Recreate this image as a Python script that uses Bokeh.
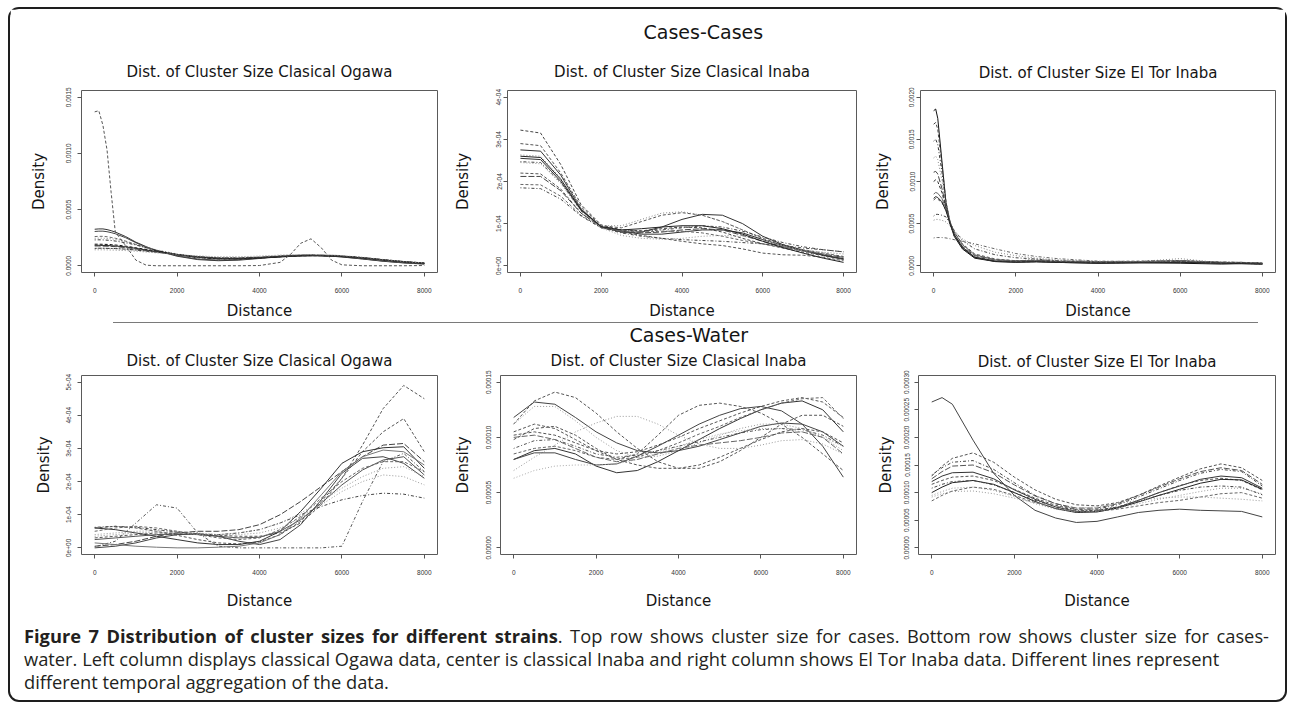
from bokeh.plotting import figure
from bokeh.layouts import row, column
from bokeh.models import Range1d, FixedTicker, Title, Div
from bokeh.embed import file_html
from bokeh.resources import INLINE

# ---------------------------------------------------------------------------
# DATA  (density values are given in units of 1e-4; the axis labels show
# the real values)
# ---------------------------------------------------------------------------
DIST_TICKS = [0, 2000, 4000, 6000, 8000]

# ---- Cases-Cases : Classical Ogawa
CC_OGAWA_X = [0, 100, 200, 300, 400, 500, 750, 1000, 1250, 1500, 2000, 2500, 3000,
              3500, 4000, 4500, 4750, 5000, 5250, 5500, 5750, 6000, 6500, 7000, 7500, 8000]
CC_OGAWA = [
    [3.25, 3.28, 3.28, 3.22, 3.12, 3.00, 2.60, 2.10, 1.70, 1.35, 0.85, 0.55, 0.45, 0.50, 0.65, 0.80, 0.88, 0.92, 0.93, 0.90, 0.85, 0.78, 0.60, 0.40, 0.25, 0.15],
    [3.05, 3.08, 3.08, 3.03, 2.95, 2.85, 2.50, 2.05, 1.65, 1.35, 0.90, 0.60, 0.50, 0.55, 0.68, 0.82, 0.88, 0.92, 0.93, 0.90, 0.85, 0.80, 0.62, 0.42, 0.27, 0.17],
    [2.60, 2.62, 2.62, 2.58, 2.52, 2.45, 2.20, 1.90, 1.60, 1.35, 0.95, 0.70, 0.58, 0.60, 0.70, 0.85, 0.90, 0.95, 0.96, 0.94, 0.90, 0.84, 0.66, 0.46, 0.30, 0.20],
    [2.45, 2.46, 2.46, 2.43, 2.40, 2.35, 2.15, 1.90, 1.65, 1.42, 1.05, 0.80, 0.70, 0.72, 0.80, 0.90, 0.95, 0.98, 1.00, 0.99, 0.96, 0.90, 0.72, 0.50, 0.33, 0.22],
    [2.30, 2.31, 2.30, 2.28, 2.25, 2.20, 2.05, 1.85, 1.60, 1.38, 1.00, 0.75, 0.62, 0.62, 0.70, 0.82, 0.88, 0.92, 0.94, 0.93, 0.90, 0.85, 0.70, 0.50, 0.33, 0.22],
    [1.92, 1.92, 1.91, 1.90, 1.88, 1.85, 1.75, 1.60, 1.45, 1.30, 1.00, 0.75, 0.62, 0.62, 0.70, 0.80, 0.85, 0.88, 0.90, 0.90, 0.88, 0.85, 0.72, 0.52, 0.35, 0.22],
    [1.82, 1.82, 1.81, 1.80, 1.78, 1.76, 1.68, 1.55, 1.40, 1.27, 1.00, 0.78, 0.65, 0.64, 0.70, 0.78, 0.83, 0.86, 0.88, 0.88, 0.86, 0.82, 0.70, 0.52, 0.35, 0.22],
    [1.76, 1.76, 1.75, 1.74, 1.72, 1.70, 1.62, 1.50, 1.36, 1.24, 0.98, 0.78, 0.68, 0.68, 0.76, 0.86, 0.90, 0.92, 0.93, 0.92, 0.90, 0.86, 0.73, 0.55, 0.38, 0.25],
    [1.55, 1.56, 1.56, 1.55, 1.54, 1.53, 1.48, 1.40, 1.30, 1.20, 1.00, 0.82, 0.70, 0.68, 0.74, 0.84, 0.88, 0.90, 0.91, 0.90, 0.88, 0.84, 0.72, 0.54, 0.37, 0.24],
    [1.42, 1.42, 1.42, 1.41, 1.40, 1.39, 1.35, 1.30, 1.22, 1.15, 1.00, 0.88, 0.80, 0.80, 0.86, 0.95, 0.98, 1.00, 1.00, 0.98, 0.95, 0.90, 0.76, 0.56, 0.38, 0.25],
    [13.7, 13.8, 12.5, 10.3, 6.50, 3.00, 1.80, 0.50, 0.05, 0.00, 0.00, 0.00, 0.00, 0.00, 0.02, 0.30, 1.00, 2.00, 2.40, 1.60, 0.50, 0.08, 0.00, 0.00, 0.00, 0.02],
]
CC_OGAWA_YTICKS = [0, 5, 10, 15]
CC_OGAWA_YLABELS = ["0.0000", "0.0005", "0.0010", "0.0015"]

# ---- Cases-Cases : Classical Inaba
CC_INABA_X = [0, 500, 1000, 1500, 2000, 2500, 3000, 3500, 4000, 4500, 5000, 5500, 6000, 6500, 7000, 7500, 8000]
CC_INABA = [
    [3.22, 3.15, 2.40, 1.45, 0.97, 0.85, 0.83, 0.88, 0.92, 0.90, 0.80, 0.65, 0.52, 0.42, 0.32, 0.24, 0.16],
    [2.90, 2.85, 2.20, 1.40, 0.95, 0.90, 1.05, 1.20, 1.26, 1.20, 1.05, 0.85, 0.65, 0.50, 0.38, 0.30, 0.22],
    [2.75, 2.72, 2.15, 1.35, 0.92, 0.80, 0.80, 0.92, 1.10, 1.22, 1.20, 1.00, 0.70, 0.50, 0.36, 0.25, 0.17],
    [2.63, 2.60, 2.08, 1.35, 0.95, 0.95, 1.10, 1.25, 1.28, 1.20, 1.05, 0.85, 0.62, 0.48, 0.38, 0.32, 0.28],
    [2.55, 2.52, 2.00, 1.32, 0.92, 0.82, 0.75, 0.75, 0.80, 0.85, 0.85, 0.78, 0.62, 0.48, 0.36, 0.25, 0.15],
    [2.47, 2.45, 1.98, 1.30, 0.93, 0.85, 0.82, 0.85, 0.90, 0.95, 0.92, 0.82, 0.68, 0.55, 0.45, 0.38, 0.33],
    [2.20, 2.18, 1.82, 1.25, 0.92, 0.80, 0.72, 0.65, 0.58, 0.52, 0.48, 0.40, 0.30, 0.26, 0.25, 0.20, 0.12],
    [2.12, 2.12, 1.78, 1.25, 0.92, 0.80, 0.78, 0.80, 0.85, 0.88, 0.85, 0.72, 0.58, 0.45, 0.35, 0.27, 0.20],
    [1.93, 1.92, 1.65, 1.20, 0.90, 0.82, 0.80, 0.82, 0.82, 0.78, 0.70, 0.60, 0.52, 0.44, 0.36, 0.28, 0.20],
    [1.85, 1.83, 1.58, 1.18, 0.90, 0.78, 0.70, 0.65, 0.62, 0.60, 0.58, 0.55, 0.52, 0.48, 0.42, 0.38, 0.33],
    [2.45, 2.42, 1.95, 1.30, 0.90, 0.72, 0.65, 0.63, 0.65, 0.70, 0.72, 0.70, 0.62, 0.48, 0.35, 0.22, 0.12],
    [2.60, 2.57, 2.05, 1.33, 0.93, 0.85, 0.88, 0.92, 0.95, 0.95, 0.88, 0.75, 0.58, 0.43, 0.30, 0.18, 0.08],
]
CC_INABA_YTICKS = [0, 1, 2, 3, 4]
CC_INABA_YLABELS = ["0e+00", "1e-04", "2e-04", "3e-04", "4e-04"]

# ---- Cases-Cases : El Tor Inaba
CC_ELTOR_X = [0, 50, 100, 200, 300, 400, 500, 700, 1000, 1500, 2000, 2500, 3000, 4000, 5000, 6000, 7000, 7500, 8000]
CC_ELTOR = [
    [18.4, 18.6, 17.5, 12.5, 7.5, 5.0, 3.5, 2.0, 0.9, 0.50, 0.45, 0.50, 0.40, 0.30, 0.35, 0.30, 0.20, 0.25, 0.20],
    [16.8, 17.0, 16.2, 12.0, 7.6, 5.2, 3.7, 2.1, 1.0, 0.55, 0.50, 0.55, 0.45, 0.35, 0.40, 0.45, 0.30, 0.30, 0.25],
    [14.8, 15.0, 14.4, 11.2, 7.4, 5.1, 3.6, 2.1, 1.0, 0.60, 0.50, 0.60, 0.50, 0.40, 0.45, 0.50, 0.30, 0.30, 0.20],
    [12.8, 13.0, 12.6, 10.2, 7.2, 5.0, 3.6, 2.2, 1.1, 0.65, 0.55, 0.80, 0.60, 0.40, 0.50, 0.85, 0.35, 0.30, 0.25],
    [11.1, 11.2, 10.9, 9.2, 7.0, 5.0, 3.7, 2.3, 1.2, 0.70, 0.60, 0.65, 0.50, 0.40, 0.45, 0.55, 0.35, 0.35, 0.30],
    [8.5, 8.7, 8.6, 8.0, 6.8, 5.2, 4.0, 2.5, 1.3, 0.70, 0.55, 0.60, 0.50, 0.45, 0.50, 0.60, 0.40, 0.40, 0.30],
    [7.8, 8.0, 7.9, 7.5, 6.6, 5.2, 4.0, 2.6, 1.4, 0.80, 0.60, 0.65, 0.55, 0.50, 0.55, 0.60, 0.40, 0.35, 0.30],
    [5.9, 6.1, 6.1, 6.0, 5.8, 5.0, 4.2, 3.0, 2.0, 1.30, 0.95, 0.80, 0.60, 0.50, 0.50, 0.60, 0.45, 0.40, 0.35],
    [5.4, 5.5, 5.5, 5.4, 5.2, 4.7, 4.1, 3.2, 2.4, 1.60, 1.20, 0.90, 0.70, 0.50, 0.50, 0.55, 0.45, 0.40, 0.30],
    [3.3, 3.35, 3.35, 3.35, 3.3, 3.2, 3.1, 2.9, 2.6, 2.00, 1.45, 1.10, 0.85, 0.55, 0.50, 0.50, 0.40, 0.35, 0.30],
    [8.0, 8.2, 8.1, 7.6, 6.5, 5.0, 3.7, 2.2, 1.0, 0.50, 0.40, 0.45, 0.40, 0.30, 0.35, 0.40, 0.30, 0.25, 0.20],
    [10.0, 10.2, 10.0, 8.7, 6.9, 5.0, 3.6, 2.1, 1.0, 0.55, 0.45, 0.50, 0.45, 0.35, 0.40, 0.45, 0.30, 0.35, 0.25],
]
CC_ELTOR_YTICKS = [0, 5, 10, 15, 20]
CC_ELTOR_YLABELS = ["0.0000", "0.0005", "0.0010", "0.0015", "0.0020"]

# ---- Cases-Water : Classical Ogawa
CW_OGAWA_X = [0, 500, 1000, 1500, 2000, 2500, 3000, 3500, 4000, 4500, 5000, 5500, 6000, 6500, 7000, 7500, 8000]
CW_OGAWA = [
    [0.30, 0.35, 0.40, 0.45, 0.45, 0.42, 0.38, 0.35, 0.35, 0.45, 0.75, 1.30, 2.10, 3.10, 4.20, 4.90, 4.50],
    [0.60, 0.65, 0.60, 0.50, 0.38, 0.25, 0.15, 0.12, 0.18, 0.40, 0.80, 1.40, 2.10, 2.90, 3.50, 3.90, 2.90],
    [0.05, 0.10, 0.20, 0.35, 0.45, 0.50, 0.50, 0.55, 0.70, 1.00, 1.40, 1.85, 2.30, 2.75, 3.10, 3.15, 2.60],
    [0.60, 0.55, 0.45, 0.35, 0.25, 0.15, 0.10, 0.10, 0.20, 0.50, 1.10, 1.80, 2.55, 2.90, 3.02, 3.05, 2.40],
    [0.25, 0.30, 0.35, 0.40, 0.42, 0.40, 0.35, 0.30, 0.32, 0.50, 0.85, 1.35, 1.90, 2.35, 2.65, 2.75, 2.20],
    [0.40, 0.45, 0.50, 0.52, 0.50, 0.45, 0.40, 0.40, 0.45, 0.60, 0.90, 1.30, 1.70, 2.00, 2.20, 2.15, 1.90],
    [0.62, 0.65, 0.62, 0.55, 0.48, 0.42, 0.40, 0.45, 0.55, 0.75, 1.00, 1.25, 1.45, 1.58, 1.65, 1.62, 1.50],
    [0.03, 0.20, 0.75, 1.30, 1.20, 0.45, 0.05, 0.00, 0.00, 0.00, 0.00, 0.00, 0.05, 1.40, 2.60, 2.85, 2.30],
    [0.00, 0.05, 0.15, 0.30, 0.40, 0.42, 0.35, 0.20, 0.10, 0.25, 0.70, 1.45, 2.25, 2.70, 2.75, 2.55, 2.10],
    [0.50, 0.60, 0.65, 0.60, 0.50, 0.40, 0.30, 0.25, 0.30, 0.55, 0.95, 1.50, 2.00, 2.40, 2.60, 2.60, 2.30],
    [0.35, 0.40, 0.45, 0.48, 0.45, 0.40, 0.40, 0.45, 0.55, 0.75, 1.05, 1.40, 1.80, 2.15, 2.40, 2.45, 2.15],
    [0.15, 0.10, 0.05, 0.02, 0.00, 0.00, 0.02, 0.05, 0.15, 0.40, 0.90, 1.60, 2.30, 2.75, 2.95, 2.90, 2.50],
]
CW_OGAWA_YTICKS = [0, 1, 2, 3, 4, 5]
CW_OGAWA_YLABELS = ["0e+00", "1e-04", "2e-04", "3e-04", "4e-04", "5e-04"]

# ---- Cases-Water : Classical Inaba
CW_INABA_X = [0, 500, 1000, 1500, 2000, 2500, 3000, 3500, 4000, 4500, 5000, 5500, 6000, 6500, 7000, 7500, 8000]
CW_INABA = [
    [1.12, 1.33, 1.41, 1.36, 1.22, 1.05, 0.90, 0.78, 0.72, 0.72, 0.78, 0.88, 1.00, 1.12, 1.20, 1.20, 1.10],
    [1.18, 1.32, 1.30, 1.18, 1.05, 0.95, 0.88, 0.86, 0.88, 0.92, 0.98, 1.04, 1.10, 1.13, 1.12, 1.05, 0.92],
    [1.12, 1.28, 1.28, 1.15, 1.00, 0.88, 0.82, 0.83, 0.88, 0.95, 1.02, 1.08, 1.12, 1.12, 1.08, 1.00, 0.88],
    [0.80, 0.88, 0.90, 0.85, 0.74, 0.68, 0.70, 0.78, 0.88, 0.98, 1.08, 1.17, 1.25, 1.31, 1.33, 1.25, 1.05],
    [1.02, 1.05, 1.02, 0.95, 0.88, 0.85, 0.87, 0.93, 1.00, 1.08, 1.15, 1.22, 1.28, 1.33, 1.36, 1.32, 1.18],
    [0.70, 0.82, 0.93, 1.05, 1.13, 1.19, 1.19, 1.12, 1.02, 0.94, 0.90, 0.90, 0.93, 0.97, 0.98, 0.94, 0.85],
    [0.98, 1.08, 1.10, 1.02, 0.90, 0.80, 0.85, 1.02, 1.20, 1.29, 1.31, 1.28, 1.22, 1.12, 1.00, 0.85, 0.70],
    [0.80, 0.86, 0.86, 0.80, 0.75, 0.76, 0.83, 0.92, 1.02, 1.12, 1.20, 1.26, 1.28, 1.24, 1.12, 0.92, 0.64],
    [0.63, 0.70, 0.74, 0.75, 0.75, 0.76, 0.80, 0.86, 0.92, 0.98, 1.03, 1.06, 1.08, 1.08, 1.05, 1.00, 0.92],
    [0.90, 0.97, 0.98, 0.92, 0.85, 0.82, 0.84, 0.88, 0.92, 0.96, 1.00, 1.04, 1.07, 1.08, 1.07, 1.02, 0.92],
    [1.00, 1.02, 0.98, 0.90, 0.82, 0.78, 0.80, 0.85, 0.90, 0.93, 0.95, 0.97, 1.00, 1.04, 1.05, 1.00, 0.85],
    [1.05, 1.12, 1.08, 0.98, 0.88, 0.80, 0.75, 0.72, 0.72, 0.75, 0.82, 0.90, 0.98, 1.05, 1.08, 1.05, 0.95],
    [0.85, 0.90, 0.92, 0.88, 0.82, 0.80, 0.82, 0.88, 0.95, 1.03, 1.10, 1.18, 1.25, 1.31, 1.35, 1.36, 1.17],
]
CW_INABA_YTICKS = [0, 0.5, 1.0, 1.5]
CW_INABA_YLABELS = ["0.00000", "0.00005", "0.00010", "0.00015"]

# ---- Cases-Water : El Tor Inaba
CW_ELTOR_X = [0, 250, 500, 1000, 1500, 2000, 2500, 3000, 3500, 4000, 4500, 5000, 5500, 6000, 6500, 7000, 7500, 8000]
CW_ELTOR = [
    [2.64, 2.72, 2.60, 1.95, 1.35, 0.95, 0.68, 0.54, 0.46, 0.48, 0.56, 0.64, 0.68, 0.70, 0.68, 0.67, 0.66, 0.56],
    [1.30, 1.48, 1.62, 1.72, 1.55, 1.28, 1.05, 0.88, 0.78, 0.76, 0.82, 0.95, 1.12, 1.28, 1.43, 1.52, 1.45, 1.22],
    [1.32, 1.45, 1.55, 1.58, 1.42, 1.18, 0.95, 0.80, 0.70, 0.70, 0.78, 0.92, 1.07, 1.22, 1.35, 1.42, 1.38, 1.12],
    [1.20, 1.30, 1.36, 1.37, 1.25, 1.05, 0.88, 0.74, 0.66, 0.66, 0.73, 0.86, 1.00, 1.12, 1.24, 1.30, 1.27, 1.08],
    [1.15, 1.22, 1.28, 1.30, 1.22, 1.06, 0.90, 0.77, 0.69, 0.68, 0.74, 0.86, 1.00, 1.13, 1.22, 1.26, 1.22, 1.05],
    [1.00, 1.10, 1.18, 1.22, 1.15, 1.00, 0.84, 0.71, 0.64, 0.65, 0.72, 0.83, 0.95, 1.06, 1.17, 1.24, 1.23, 1.06],
    [0.95, 1.02, 1.08, 1.10, 1.04, 0.93, 0.80, 0.70, 0.65, 0.66, 0.72, 0.80, 0.88, 0.95, 1.02, 1.08, 1.08, 0.98],
    [0.85, 0.95, 1.03, 1.10, 1.06, 0.95, 0.82, 0.72, 0.66, 0.66, 0.70, 0.76, 0.82, 0.86, 0.92, 0.98, 1.00, 0.90],
    [1.08, 1.15, 1.20, 1.22, 1.14, 1.00, 0.86, 0.75, 0.68, 0.68, 0.74, 0.84, 0.95, 1.04, 1.10, 1.12, 1.10, 0.96],
    [1.25, 1.38, 1.48, 1.50, 1.36, 1.14, 0.94, 0.80, 0.72, 0.72, 0.80, 0.95, 1.10, 1.25, 1.38, 1.45, 1.40, 1.15],
    [0.92, 0.98, 1.02, 1.03, 0.98, 0.90, 0.82, 0.75, 0.72, 0.74, 0.80, 0.86, 0.90, 0.92, 0.92, 0.90, 0.88, 0.85],
]
CW_ELTOR_YTICKS = [0, 0.5, 1.0, 1.5, 2.0, 2.5, 3.0]
CW_ELTOR_YLABELS = ["0.00000", "0.00005", "0.00010", "0.00015", "0.00020", "0.00025", "0.00030"]

TITLE_OGAWA = "Dist. of Cluster Size Clasical Ogawa"
TITLE_INABA = "Dist. of Cluster Size Clasical Inaba"
TITLE_ELTOR = "Dist. of Cluster Size El Tor Inaba"
HEADER_TOP = "Cases-Cases"
HEADER_BOTTOM = "Cases-Water"

CAPTION_BOLD = "Figure 7 Distribution of cluster sizes for different strains"
CAPTION_L1 = ". Top row shows cluster size for cases. Bottom row shows cluster size for cases-"
CAPTION_L2 = ("water. Left column displays classical Ogawa data, center is classical Inaba and "
              "right column shows El Tor Inaba data. Different lines represent")
CAPTION_L3 = "different temporal aggregation of the data."

# ---------------------------------------------------------------------------
# STYLES (line colour, dash pattern) per curve
# ---------------------------------------------------------------------------
S, DA, DO, DD, LD, TD = "solid", "3 2", "1 2", "1 2 3 2", "6 2", "2 1 4 1"
STY_CC_OGAWA = [("#333", S), ("#444", S), ("#666", DA), ("#888", DO), ("#333", DD), ("#111", DA),
                ("#222", S), ("#444", LD), ("#333", TD), ("#888", DO), ("#555", DA)]
STY_CC_INABA = [("#444", DA), ("#555", DA), ("#333", S), ("#888", DO), ("#333", S), ("#444", DD),
                ("#555", DA), ("#444", LD), ("#666", DA), ("#444", DD), ("#999", DO), ("#222", S)]
STY_CC_ELTOR = [("#111", S), ("#444", DA), ("#333", DD), ("#888", DO), ("#444", LD), ("#666", S),
                ("#555", DA), ("#444", DD), ("#888", DO), ("#666", DD), ("#222", S), ("#333", DA)]
STY_CW_OGAWA = [("#555", DA), ("#555", DA), ("#444", LD), ("#333", S), ("#555", S), ("#999", DO),
                ("#444", DD), ("#555", DD), ("#444", S), ("#666", DA), ("#999", DO), ("#777", S)]
STY_CW_INABA = [("#555", DA), ("#444", S), ("#999", DO), ("#333", S), ("#555", DA), ("#999", DO),
                ("#555", DA), ("#444", S), ("#aaa", DO), ("#555", DD), ("#666", LD), ("#555", DA),
                ("#666", DA)]
STY_CW_ELTOR = [("#444", S), ("#555", DA), ("#444", DD), ("#333", S), ("#555", DA), ("#222", S),
                ("#999", DO), ("#666", DA), ("#444", DD), ("#555", LD), ("#999", DO)]

FONT = "DejaVu Sans"
TICK_FONT = "Liberation Sans"


def panel(title, xs, curves, styles, yticks, ylabels, w, h, bl, br, bt, bb,
          t_stand, ytick_sd, ylab_sd, xtick_sd, xlab_sd,
          header=None, h_stand=0, h_off=0):
    ymax = yticks[-1]
    p = figure(width=w, height=h,
               x_range=Range1d(-320, 8320),
               y_range=Range1d(-0.04 * ymax, 1.04 * ymax),
               output_backend="svg", toolbar_location=None, title_location=None,
               min_border_left=bl, min_border_right=br,
               min_border_top=bt, min_border_bottom=bb,
               background_fill_color="white", border_fill_color="white",
               outline_line_color="#5a5a5a", outline_line_width=1)
    p.add_layout(Title(text=title, align="center", text_font=FONT, text_font_size="15px",
                       text_font_style="normal", text_color="#151515",
                       standoff=t_stand), "above")
    if header:
        p.add_layout(Title(text=header, align="left", text_font=FONT, text_font_size="19px",
                           text_font_style="normal", text_color="#151515",
                           standoff=h_stand, offset=h_off), "above")
    p.grid.visible = False
    for ys, (col, dash) in zip(curves, styles):
        p.line(xs, ys, line_color=col, line_dash=dash, line_width=1)

    for ax in (p.xaxis[0], p.yaxis[0]):
        ax.axis_line_color = None
        ax.major_tick_line_color = "#555"
        ax.major_tick_out = 4
        ax.major_tick_in = 0
        ax.minor_tick_line_color = None
        ax.major_label_text_font = TICK_FONT
        ax.major_label_text_font_size = "6.5px"
        ax.major_label_text_color = "#333"
        ax.axis_label_text_font = FONT
        ax.axis_label_text_font_size = "15px"
        ax.axis_label_text_font_style = "normal"
        ax.axis_label_text_color = "#151515"

    p.xaxis.ticker = FixedTicker(ticks=DIST_TICKS)
    p.xaxis.axis_label = "Distance"
    p.xaxis.major_label_standoff = xtick_sd
    p.xaxis.axis_label_standoff = xlab_sd

    p.yaxis.ticker = FixedTicker(ticks=yticks)
    p.yaxis.major_label_overrides = dict(zip(yticks, ylabels))
    p.yaxis.major_label_orientation = "vertical"
    p.yaxis.axis_label = "Density"
    p.yaxis.major_label_standoff = ytick_sd
    p.yaxis.axis_label_standoff = ylab_sd
    return p


TOP_H, BOT_H = 313, 289

pA = panel(TITLE_OGAWA, CC_OGAWA_X, CC_OGAWA, STY_CC_OGAWA, CC_OGAWA_YTICKS, CC_OGAWA_YLABELS,
           440, TOP_H, 71, 13, 81, 45, 19, 6, 16, 11, 6)
pB = panel(TITLE_INABA, CC_INABA_X, CC_INABA, STY_CC_INABA, CC_INABA_YTICKS, CC_INABA_YLABELS,
           420, TOP_H, 50, 14, 81, 45, 19, 2, 22, 11, 6,
           header=HEADER_TOP, h_stand=18, h_off=136)
pC = panel(TITLE_ELTOR, CC_ELTOR_X, CC_ELTOR, STY_CC_ELTOR, CC_ELTOR_YTICKS, CC_ELTOR_YLABELS,
           415, TOP_H, 48, 10, 81, 45, 18, 2, 15, 11, 6)

pD = panel(TITLE_OGAWA, CW_OGAWA_X, CW_OGAWA, STY_CW_OGAWA, CW_OGAWA_YTICKS, CW_OGAWA_YLABELS,
           440, BOT_H, 71, 13, 47, 55, 12, 6, 11, 11, 14)
pE = panel(TITLE_INABA, CW_INABA_X, CW_INABA, STY_CW_INABA, CW_INABA_YTICKS, CW_INABA_YLABELS,
           420, BOT_H, 50, 14, 47, 55, 12, 5, 12, 11, 14,
           header=HEADER_BOTTOM, h_stand=-4, h_off=129)
pF = panel(TITLE_ELTOR, CW_ELTOR_X, CW_ELTOR, STY_CW_ELTOR, CW_ELTOR_YTICKS, CW_ELTOR_YLABELS,
           415, BOT_H, 48, 10, 47, 55, 10, 5, 7, 11, 14)

hr = Div(text="", width=1145, height=1, margin=(0, 0, 0, 103),
         styles={"background-color": "#7a7a7a"})

caption_html = (
    '<div style="font-family:\'Open Sans\',sans-serif;font-size:18.3px;line-height:23px;'
    'color:#231f20;padding:12px 0 0 14px;width:1259px;">'
    '<div style="text-align:justify;text-align-last:justify;">'
    f'<b>{CAPTION_BOLD}</b>{CAPTION_L1}</div>'
    f'<div>{CAPTION_L2}</div>'
    f'<div>{CAPTION_L3}</div>'
    '</div>'
)
caption = Div(text=caption_html, width=1275, height=88, margin=0)

layout = column(row(pA, pB, pC), hr, row(pD, pE, pF), caption,
                margin=(7, 0, 0, 8),
                styles={"border": "2px solid #1e1e1e", "border-radius": "11px"})

open("out.html", "w").write(file_html(layout, INLINE))
